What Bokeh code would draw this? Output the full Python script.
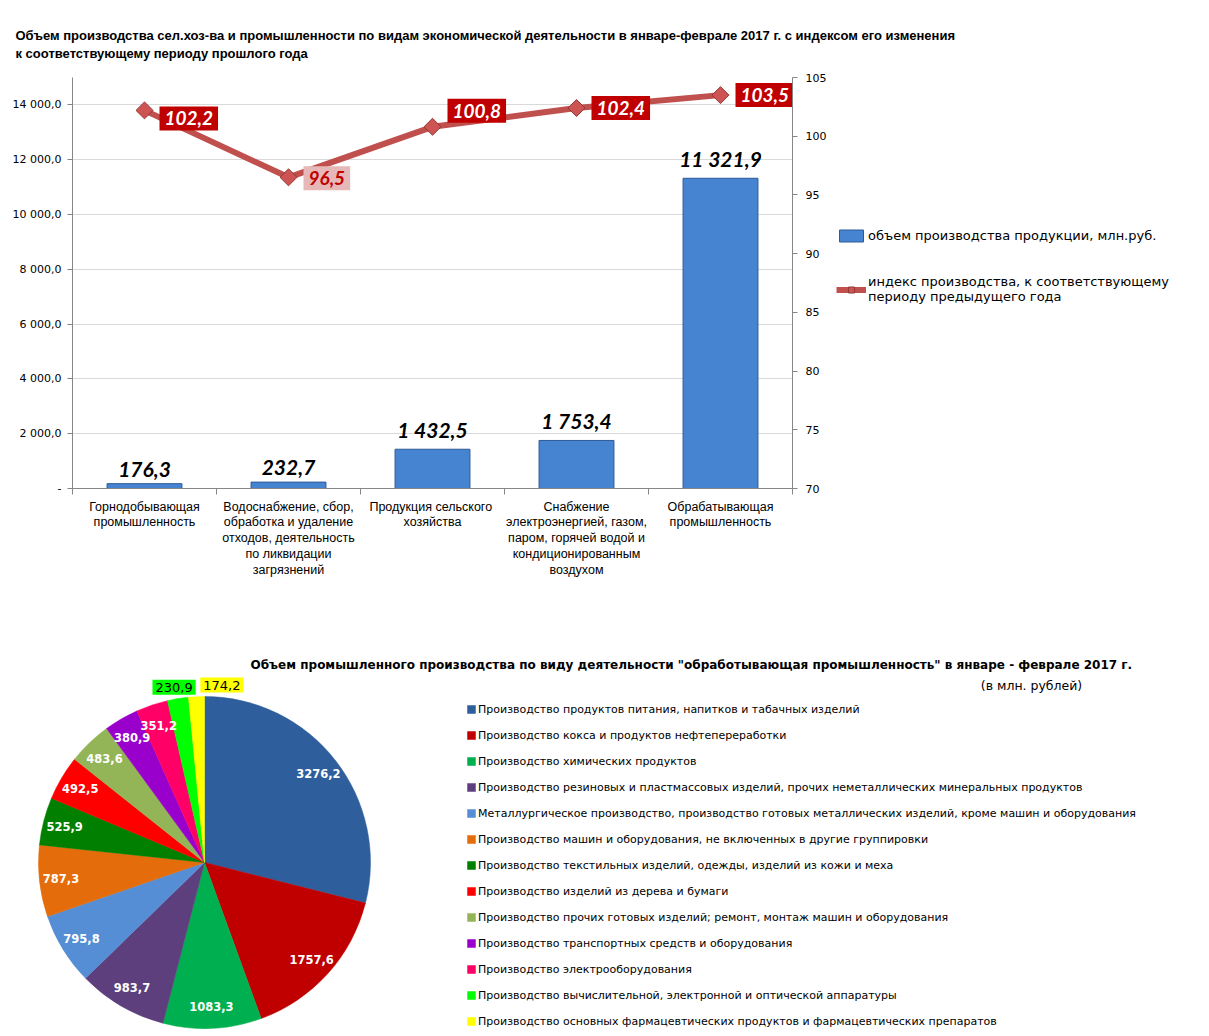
import math
from bokeh.plotting import figure
from bokeh.models import (Range1d, FactorRange, LinearAxis, CategoricalAxis, FixedTicker,
                          Grid, Label, Legend, LegendItem, ColumnDataSource, Title)
from bokeh.core.properties import value
from bokeh.embed import file_html
from bokeh.resources import INLINE

# ---------------- production by activity (Jan-Feb 2017) ----------------
activities = [
    "Горнодобывающая\nпромышленность",
    "Водоснабжение, сбор,\nобработка и удаление\nотходов, деятельность\nпо ликвидации\nзагрязнений",
    "Продукция  сельского\nхозяйства",
    "Снабжение\nэлектроэнергией, газом,\nпаром, горячей водой и\nкондиционированным\nвоздухом",
    "Обрабатывающая\nпромышленность",
]
volume = [176.3, 232.7, 1432.5, 1753.4, 11321.9]          # млн. руб.
index_pct = [102.2, 96.5, 100.8, 102.4, 103.5]            # % к прошлому году
volume_ticks = [0, 2000, 4000, 6000, 8000, 10000, 12000, 14000]
index_ticks = [70, 75, 80, 85, 90, 95, 100, 105]

# ---------------- manufacturing breakdown ----------------
branches = [
    "Производство продуктов питания, напитков и табачных изделий",
    "Производство кокса и продуктов нефтепереработки",
    "Производство химических продуктов",
    "Производство резиновых и пластмассовых изделий, прочих неметаллических минеральных продуктов",
    "Металлургическое производство, производство готовых металлических изделий, кроме машин и оборудования",
    "Производство машин и оборудования, не включенных в другие группировки",
    "Производство текстильных изделий, одежды, изделий из кожи и меха",
    "Производство изделий из дерева и бумаги",
    "Производство прочих готовых изделий; ремонт, монтаж машин и оборудования",
    "Производство транспортных средств и оборудования",
    "Производство электрооборудования",
    "Производство вычислительной, электронной и оптической аппаратуры",
    "Производство основных фармацевтических продуктов и фармацевтических препаратов",
]
branch_volume = [3276.2, 1757.6, 1083.3, 983.7, 795.8, 787.3, 525.9,
                 492.5, 483.6, 380.9, 351.2, 230.9, 174.2]
branch_colors = ["#2f5e9c", "#c00000", "#00b050", "#5e3f7e", "#558ed5", "#e46c0a", "#007f00",
                 "#ff0000", "#93b557", "#9900cc", "#ff0066", "#00ff00", "#ffff00"]


def ru(v, digits=1):
    return f"{v:,.{digits}f}".replace(",", " ").replace(".", ",")


AXIS_GREY = "#868686"
BAR_BLUE = "#4683d1"
NUM_FONT = value("Lato")

# ======================= top: bars + index line =======================
top = figure(x_range=FactorRange(factors=activities), y_range=Range1d(0, 15000),
             frame_width=720, frame_height=411,
             min_border_left=72, min_border_right=417, min_border_top=77, min_border_bottom=132,
             x_axis_location=None, y_axis_location=None,
             outline_line_color=None, background_fill_color="white",
             output_backend="svg", toolbar_location=None)
top.xgrid.visible = False
top.ygrid.visible = False
top.extra_y_ranges = {"idx": Range1d(70, 105)}

top.add_layout(Grid(dimension=1, ticker=FixedTicker(ticks=volume_ticks),
                    grid_line_color="#d9d9d9", grid_line_width=1))

idx_fg = ["white", "#c00000", "white", "white", "white"]
idx_bg = ["#c00000", "#e6b9b8", "#c00000", "#c00000", "#c00000"]
idx_dy = [8, 1, -16, 0, 0]

src = ColumnDataSource(dict(
    cat=activities, vol=volume, idx=index_pct,
    vol_lbl=[ru(v) for v in volume], idx_lbl=[ru(v) for v in index_pct],
    fg=idx_fg, bg=idx_bg, dy=idx_dy,
))

bars = top.vbar(x="cat", top="vol", width=0.52, source=src,
                fill_color=BAR_BLUE, line_color="#2c5a98", line_width=1)

top.text(x="cat", y="vol", text="vol_lbl", source=src, text_align="center",
         text_baseline="bottom", y_offset=-7, text_font=NUM_FONT,
         text_font_style="bold italic", text_font_size="21px", text_color="black")

ln = top.line(x="cat", y="idx", source=src, y_range_name="idx",
              line_color="#c0504d", line_width=6)
mk = top.scatter(x="cat", y="idx", source=src, y_range_name="idx", marker="square",
                 angle=math.pi / 4, size=12, fill_color="#cd5452", line_color="#953735",
                 line_width=1)

top.text(x="cat", y="idx", text="idx_lbl", source=src, y_range_name="idx",
         x_offset=15, y_offset="dy", text_align="left", text_baseline="middle",
         text_font=NUM_FONT, text_font_style="bold italic", text_font_size="19px",
         text_color="fg", background_fill_color="bg", padding=5)

left_axis = LinearAxis(ticker=FixedTicker(ticks=volume_ticks),
                       major_label_overrides={t: (ru(t) if t else "-") for t in volume_ticks},
                       axis_line_color=AXIS_GREY, major_tick_line_color=AXIS_GREY,
                       major_tick_out=5, major_tick_in=0, minor_tick_line_color=None,
                       major_label_text_font="DejaVu Sans",
                       major_label_text_font_size="11px", major_label_text_color="black",
                       major_label_standoff=6)
top.add_layout(left_axis, "left")

right_axis = LinearAxis(y_range_name="idx", ticker=FixedTicker(ticks=index_ticks),
                        axis_line_color=AXIS_GREY, major_tick_line_color=AXIS_GREY,
                        major_tick_out=5, major_tick_in=0, minor_tick_line_color=None,
                        major_label_text_font="DejaVu Sans",
                        major_label_text_font_size="11px", major_label_text_color="black",
                        major_label_standoff=8)
top.add_layout(right_axis, "right")

# tick marks on the category boundaries (synthetic coordinates 0..n)
edges = list(range(len(activities) + 1))
edge_axis = LinearAxis(ticker=FixedTicker(ticks=edges),
                       major_label_overrides={i: "" for i in edges},
                       axis_line_color=AXIS_GREY, major_tick_line_color=AXIS_GREY,
                       major_tick_out=6, major_tick_in=0, minor_tick_line_color=None,
                       major_label_text_font_size="0px", major_label_standoff=0)
top.add_layout(edge_axis, "below")

cat_axis = CategoricalAxis(axis_line_color=None, major_tick_line_color=None,
                           minor_tick_line_color=None, major_label_standoff=-1,
                           major_label_text_font="Liberation Sans",
                           major_label_text_font_size="12.5px", major_label_text_color="black",
                           major_label_text_line_height=1.13)
top.add_layout(cat_axis, "below")

top.add_layout(Title(text="Объем производства сел.хоз-ва и промышленности по видам экономической  деятельности в январе-феврале  2017 г. с индексом его изменения\nк соответствующему периоду прошлого года",
                     align="left", offset=-57, standoff=33,
                     text_font="Liberation Sans", text_font_style="bold",
                     text_font_size="13px", text_color="black", text_line_height=1.2),
               "above")

legend = Legend(items=[LegendItem(label="объем производства продукции, млн.руб.", renderers=[bars]),
                       LegendItem(label="индекс производства, к соответствующему\nпериоду предыдущего года",
                                  renderers=[ln, mk])],
                location=(-228, 184), glyph_width=30, glyph_height=15, label_standoff=2,
                label_height=20, spacing=29, padding=0, margin=0,
                border_line_color=None, background_fill_alpha=0,
                label_text_font="DejaVu Sans", label_text_font_size="13px",
                label_text_color="black", label_text_line_height=1.46)
top.add_layout(legend, "right")

# ======================= bottom: manufacturing pie =======================
PW, PH = 1209, 416
pie = figure(width=PW, height=PH, x_range=Range1d(0, PW), y_range=Range1d(0, PH),
             min_border=0, x_axis_location=None, y_axis_location=None,
             outline_line_color=None, output_backend="svg", toolbar_location=None)
pie.xgrid.visible = False
pie.ygrid.visible = False

cx, cy, R = 204, 174, 166
total = sum(branch_volume)
starts, ends, mids = [], [], []
acc = 0.0
for v in branch_volume:
    f0, f1 = acc / total, (acc + v) / total
    acc += v
    starts.append(math.pi / 2 - 2 * math.pi * f0)
    ends.append(math.pi / 2 - 2 * math.pi * f1)
    mids.append(2 * math.pi * (f0 + f1) / 2)   # clockwise from 12 o'clock

wsrc = ColumnDataSource(dict(start=starts, end=ends, color=branch_colors, name=branches))
wedges = pie.wedge(x=cx, y=cy, radius=R, start_angle="start", end_angle="end",
                   direction="clock", fill_color="color", line_color="color",
                   line_width=0.5, source=wsrc)

inner = [i for i in range(len(branch_volume)) if i < 11]
outer = [i for i in range(len(branch_volume)) if i >= 11]
rin, rout = 0.87 * R, 1.07 * R
pie.text(x=[cx + rin * math.sin(mids[i]) for i in inner],
         y=[cy + rin * math.cos(mids[i]) for i in inner],
         text=[f"{branch_volume[i]:.1f}".replace(".", ",") for i in inner],
         text_align="center", text_baseline="middle", text_color="white",
         text_font=value("DejaVu Sans"), text_font_style="bold", text_font_size="11.5px")
outer_shift = [-2, 26]
pie.text(x=[cx + rout * math.sin(mids[i]) for i in outer],
         y=[cy + rout * math.cos(mids[i]) for i in outer],
         x_offset=outer_shift,
         text=[f"{branch_volume[i]:.1f}".replace(".", ",") for i in outer],
         text_align="center", text_baseline="middle", text_color="black",
         background_fill_color=[branch_colors[i] for i in outer], padding=3,
         text_font=value("DejaVu Sans"), text_font_size="13px")

pie.add_layout(Label(x=695, y=372, text_align="center", text_baseline="middle",
                     text="Объем промышленного производства  по виду деятельности \"обработывающая промышленность\" в январе - феврале  2017 г.",
                     text_font="DejaVu Sans", text_font_style="bold",
                     text_font_size="12px", text_color="black"))
pie.add_layout(Label(x=1031, y=351, text_align="center", text_baseline="middle",
                     text="(в млн. рублей)", text_font="DejaVu Sans",
                     text_font_size="12.5px", text_color="black"))

pie_legend = Legend(items=[LegendItem(label=branches[i], renderers=[wedges], index=i)
                           for i in range(len(branches))],
                    location=(466, 5), glyph_width=10, glyph_height=10, label_standoff=2,
                    label_height=20, spacing=6, padding=0, margin=0,
                    border_line_color=None, background_fill_alpha=0,
                    label_text_font="DejaVu Sans", label_text_font_size="11px",
                    label_text_color="black")
pie.add_layout(pie_legend)

# the two charts are stacked as separate roots of the page
open("out.html", "w").write(file_html([top, pie], INLINE))
